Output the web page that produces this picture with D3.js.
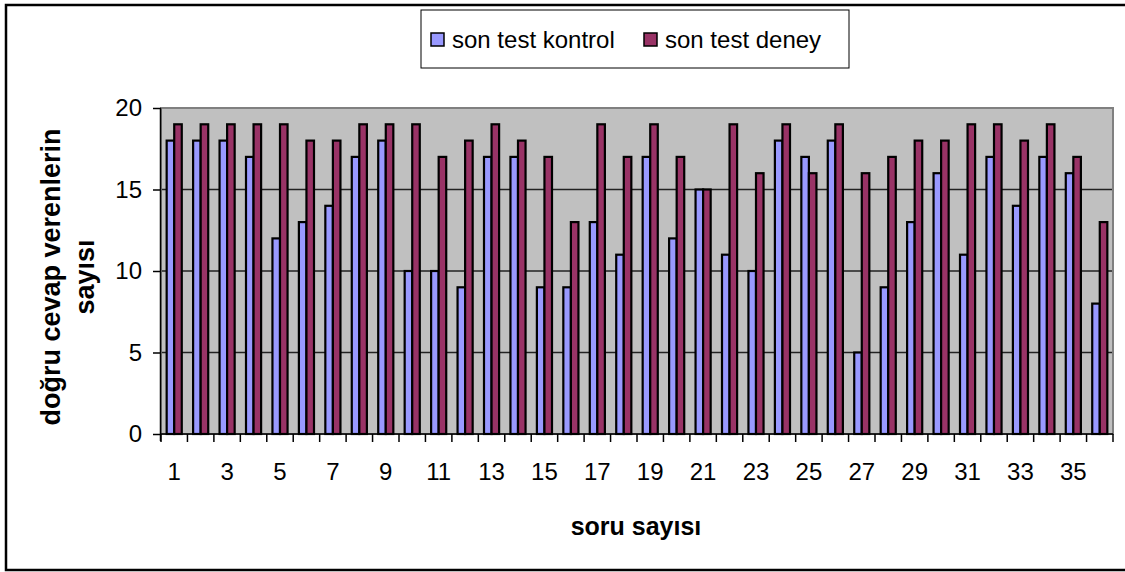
<!DOCTYPE html>
<html>
<head>
<meta charset="utf-8">
<script src="https://cdn.jsdelivr.net/npm/d3@7"></script>
<style>
  body { margin: 0; background: #fff; }
  svg { display: block; font-family: Arial, "Liberation Sans", sans-serif; }
</style>
</head>
<body>
<svg id="chart" width="1125" height="572"></svg>
<script>
// data
const questions = d3.range(1, 37);
const kontrol = [18,18,18,17,12,13,14,17,18,10,10,9,17,17,9,9,13,11,17,12,15,11,10,18,17,18,5,9,13,16,11,17,14,17,16,8];
const deney   = [19,19,19,19,19,18,18,19,19,19,17,18,19,18,17,13,19,17,19,17,15,19,16,19,16,19,16,17,18,18,19,19,18,19,17,13];
const seriesNames = ["son test kontrol", "son test deney"];
const yTicks = [0, 5, 10, 15, 20];

const COLORS = ["#9999ff", "#993366"];

const svg = d3.select("#chart");

// outer frame (right edge runs off the picture)
svg.append("rect")
    .attr("x", 6).attr("y", 5)
    .attr("width", 1140).attr("height", 565)
    .attr("fill", "none").attr("stroke", "#000").attr("stroke-width", 2.5);

const plot = { left: 161, right: 1113, top: 108, bottom: 434 };

const x = d3.scaleBand()
    .domain(questions)
    .range([plot.left, plot.right]);
const bw = x.bandwidth() / 3.5;   // excel gap width 150%
const y = d3.scaleLinear()
    .domain([0, 20])
    .range([plot.bottom, plot.top]);

// plot background
svg.append("rect")
    .attr("x", plot.left).attr("y", plot.top)
    .attr("width", plot.right - plot.left).attr("height", plot.bottom - plot.top)
    .attr("fill", "#c0c0c0");

// gridlines
svg.selectAll(".grid")
    .data(yTicks.filter(d => d > 0 && d < 20))
    .join("line")
    .attr("x1", plot.left).attr("x2", plot.right)
    .attr("y1", d => y(d)).attr("y2", d => y(d))
    .attr("stroke", "#222").attr("stroke-width", 1.5);

// plot border
svg.append("rect")
    .attr("x", plot.left).attr("y", plot.top)
    .attr("width", plot.right - plot.left).attr("height", plot.bottom - plot.top)
    .attr("fill", "none").attr("stroke", "#808080").attr("stroke-width", 2);

// bars
[kontrol, deney].forEach((vals, s) => {
    svg.selectAll(".bar" + s)
        .data(vals)
        .join("rect")
        .attr("x", (_d, i) => x(questions[i]) + x.bandwidth() / 2 - bw + s * bw)
        .attr("y", d => y(d))
        .attr("width", bw)
        .attr("height", d => plot.bottom - y(d))
        .attr("fill", COLORS[s])
        .attr("stroke", "#000")
        .attr("stroke-width", 2.2);
});

// Y axis
const yAxis = svg.append("g")
    .attr("transform", `translate(${plot.left},0)`)
    .call(d3.axisLeft(y).tickValues(yTicks).tickSize(8).tickPadding(11));
yAxis.select(".domain").attr("d", `M-0.5,${plot.top}V${plot.bottom + 7}`).attr("stroke-width", 1.5);
yAxis.selectAll(".tick line").attr("stroke-width", 1.5);
yAxis.selectAll("text").attr("font-size", 24).attr("font-family", "Arial, Liberation Sans, sans-serif").attr("fill", "#000");

// X axis: ticks on category boundaries, labels on odd categories
const xAxis = svg.append("g").attr("transform", `translate(0,${plot.bottom})`);
xAxis.append("line")
    .attr("x1", plot.left).attr("x2", plot.right)
    .attr("y1", 0).attr("y2", 0)
    .attr("stroke", "#000").attr("stroke-width", 1.5);
xAxis.selectAll(".xt")
    .data(questions.concat([37]))
    .join("line")
    .attr("x1", d => d <= 36 ? x(d) : plot.right)
    .attr("x2", d => d <= 36 ? x(d) : plot.right)
    .attr("y1", 0).attr("y2", 8)
    .attr("stroke", "#000").attr("stroke-width", 1.5);
xAxis.selectAll(".xl")
    .data(questions.filter(d => d % 2 === 1))
    .join("text")
    .attr("x", d => x(d) + x.bandwidth() / 2)
    .attr("y", 46)
    .attr("text-anchor", "middle")
    .attr("font-size", 24)
    .text(d => d);

// axis titles
svg.append("text")
    .attr("x", 636).attr("y", 535)
    .attr("text-anchor", "middle")
    .attr("font-size", 25).attr("font-weight", "bold")
    .text("soru sayısı");

const yTitle = svg.append("text")
    .attr("transform", "translate(60,277) rotate(-90)")
    .attr("text-anchor", "middle")
    .attr("font-size", 27).attr("font-weight", "bold");
yTitle.append("tspan").attr("x", 0).attr("y", 0).text("doğru cevap verenlerin");
yTitle.append("tspan").attr("x", 0).attr("y", 34).text("sayısı");

// legend
const legend = svg.append("g");
legend.append("rect")
    .attr("x", 421).attr("y", 10).attr("width", 428).attr("height", 58)
    .attr("fill", "#fff").attr("stroke", "#000").attr("stroke-width", 1);
const legX = [431, 644];
seriesNames.forEach((name, i) => {
    legend.append("rect")
        .attr("x", legX[i]).attr("y", 33).attr("width", 13).attr("height", 13)
        .attr("fill", COLORS[i]).attr("stroke", "#000").attr("stroke-width", 1.5);
    legend.append("text")
        .attr("x", legX[i] + 21).attr("y", 48)
        .attr("font-size", 24)
        .text(name);
});
</script>
</body>
</html>
